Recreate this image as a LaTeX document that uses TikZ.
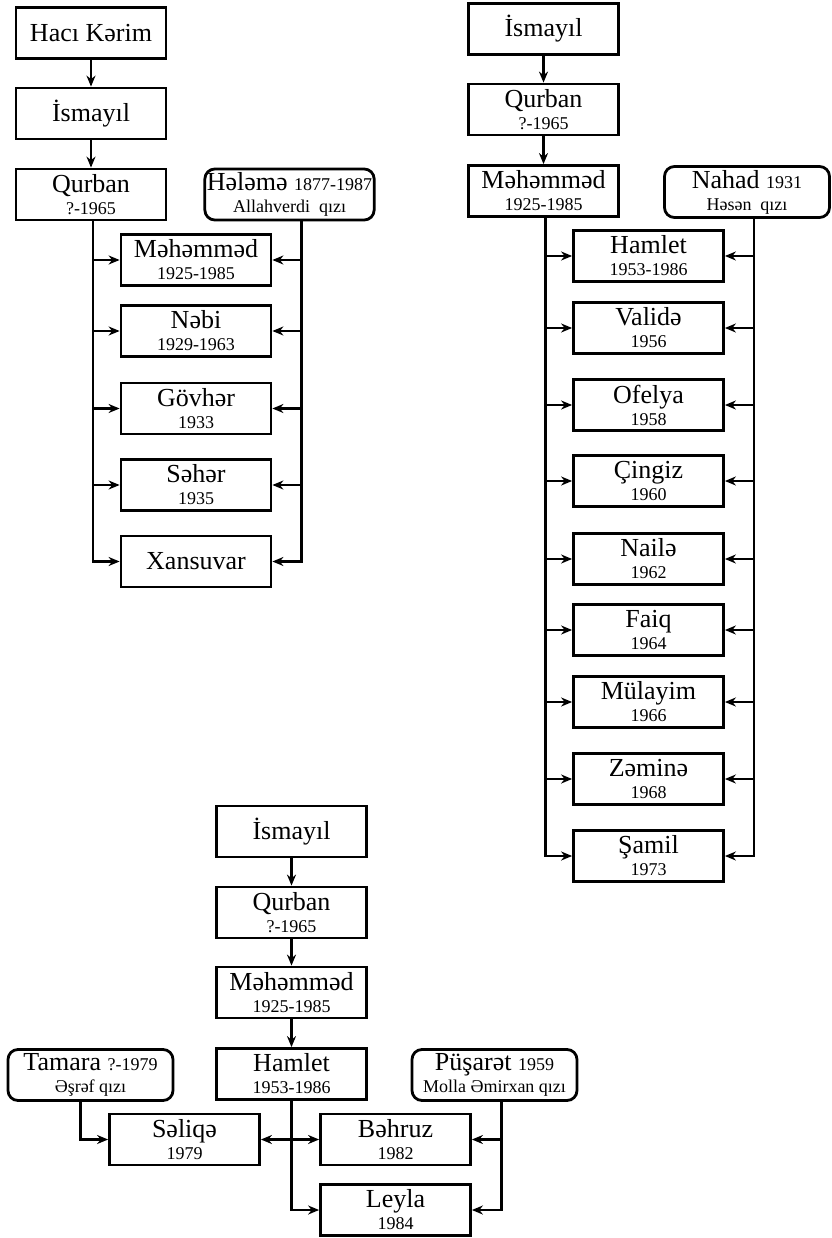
\documentclass[tikz,border=0pt]{standalone}
\usepackage{fontspec}
\setmainfont{Liberation Serif}
\usetikzlibrary{arrows.meta}

\newcommand{\yr}[1]{{\fontsize{18}{22}\selectfont #1}}

\begin{document}
\begin{tikzpicture}[
  x=1pt, y=-1pt,
  font=\fontsize{26}{22}\selectfont,
  person/.style={draw, line width=2.8pt, align=center, inner sep=2pt,
                 minimum width=150pt, minimum height=51pt},
  spouse/.style={person, rounded corners=10pt, minimum width=165pt},
  ln/.style={line width=2.8pt},
  arr/.style={-{Stealth[length=11pt,width=9pt]}, line width=2.8pt},
]
\useasboundingbox (0,0) rectangle (831,1238);

% first tree
\node[person] (hk) at (91,33) {Hacı Kərim};
\node[person] (ism1) at (91,113.5) {İsmayıl};
\node[person] (qur1) at (91,194.5) {Qurban\\\yr{?-1965}};
\node[spouse] (hal) at (289.5,194.5) {Hələmə \yr{1877-1987}\\\yr{Allahverdi\ \ qızı}};
\node[person] (meh1) at (196,260) {Məhəmməd\\\yr{1925-1985}};
\node[person] (nebi) at (196,331) {Nəbi\\\yr{1929-1963}};
\node[person] (gov) at (196,408.5) {Gövhər\\\yr{1933}};
\node[person] (seh) at (196,485) {Səhər\\\yr{1935}};
\node[person] (xans) at (196,561.5) {Xansuvar};
\draw[arr] (hk) -- (ism1);
\draw[arr] (ism1) -- (qur1);
\draw[arr, line join=miter] ([xshift=2pt]qur1.south) |- (xans.west);
\draw[arr] ([xshift=2pt]qur1.south |- meh1.west) -- (meh1.west);
\draw[arr] ([xshift=2pt]qur1.south |- nebi.west) -- (nebi.west);
\draw[arr] ([xshift=2pt]qur1.south |- gov.west) -- (gov.west);
\draw[arr] ([xshift=2pt]qur1.south |- seh.west) -- (seh.west);
\draw[arr, line join=miter] ([xshift=12pt]hal.south) |- (xans.east);
\draw[arr] ([xshift=12pt]hal.south |- meh1.east) -- (meh1.east);
\draw[arr] ([xshift=12pt]hal.south |- nebi.east) -- (nebi.east);
\draw[arr] ([xshift=12pt]hal.south |- gov.east) -- (gov.east);
\draw[arr] ([xshift=12pt]hal.south |- seh.east) -- (seh.east);

% second tree
\node[person] (ism2) at (543.5,29) {İsmayıl};
\node[person] (qur2) at (543.5,109.5) {Qurban\\\yr{?-1965}};
\node[person] (meh2) at (543.5,191) {Məhəmməd\\\yr{1925-1985}};
\node[spouse] (nahad) at (747,192) {Nahad \yr{1931}\\\yr{Həsən\ \ qızı}};
\node[person] (ham2) at (648.5,256) {Hamlet\\\yr{1953-1986}};
\node[person] (val) at (648.5,328) {Validə\\\yr{1956}};
\node[person] (ofe) at (648.5,405) {Ofelya\\\yr{1958}};
\node[person] (cin) at (648.5,481) {Çingiz\\\yr{1960}};
\node[person] (nai) at (648.5,559) {Nailə\\\yr{1962}};
\node[person] (fai) at (648.5,630) {Faiq\\\yr{1964}};
\node[person] (mul) at (648.5,702) {Mülayim\\\yr{1966}};
\node[person] (zem) at (648.5,779) {Zəminə\\\yr{1968}};
\node[person] (sam) at (648.5,856) {Şamil\\\yr{1973}};
\draw[arr] (ism2) -- (qur2);
\draw[arr] (qur2) -- (meh2);
\draw[arr, line join=miter] ([xshift=2pt]meh2.south) |- (sam.west);
\draw[arr] ([xshift=2pt]meh2.south |- ham2.west) -- (ham2.west);
\draw[arr] ([xshift=2pt]meh2.south |- val.west) -- (val.west);
\draw[arr] ([xshift=2pt]meh2.south |- ofe.west) -- (ofe.west);
\draw[arr] ([xshift=2pt]meh2.south |- cin.west) -- (cin.west);
\draw[arr] ([xshift=2pt]meh2.south |- nai.west) -- (nai.west);
\draw[arr] ([xshift=2pt]meh2.south |- fai.west) -- (fai.west);
\draw[arr] ([xshift=2pt]meh2.south |- mul.west) -- (mul.west);
\draw[arr] ([xshift=2pt]meh2.south |- zem.west) -- (zem.west);
\draw[arr, line join=miter] ([xshift=7pt]nahad.south) |- (sam.east);
\draw[arr] ([xshift=7pt]nahad.south |- ham2.east) -- (ham2.east);
\draw[arr] ([xshift=7pt]nahad.south |- val.east) -- (val.east);
\draw[arr] ([xshift=7pt]nahad.south |- ofe.east) -- (ofe.east);
\draw[arr] ([xshift=7pt]nahad.south |- cin.east) -- (cin.east);
\draw[arr] ([xshift=7pt]nahad.south |- nai.east) -- (nai.east);
\draw[arr] ([xshift=7pt]nahad.south |- fai.east) -- (fai.east);
\draw[arr] ([xshift=7pt]nahad.south |- mul.east) -- (mul.east);
\draw[arr] ([xshift=7pt]nahad.south |- zem.east) -- (zem.east);

% third tree
\node[person] (ism3) at (291.5,831.5) {İsmayıl};
\node[person] (qur3) at (291.5,912.5) {Qurban\\\yr{?-1965}};
\node[person] (meh3) at (291.5,992.5) {Məhəmməd\\\yr{1925-1985}};
\node[person] (ham3) at (291.5,1074) {Hamlet\\\yr{1953-1986}};
\node[spouse] (tam) at (90.5,1075) {Tamara \yr{?-1979}\\\yr{Əşrəf qızı}};
\node[spouse] (pus) at (494.5,1075) {Püşarət \yr{1959}\\\yr{Molla Əmirxan qızı}};
\node[person] (sel) at (184.5,1139.5) {Səliqə\\\yr{1979}};
\node[person] (beh) at (395.5,1139.5) {Bəhruz\\\yr{1982}};
\node[person] (ley) at (395.5,1210) {Leyla\\\yr{1984}};
\draw[arr] (ism3) -- (qur3);
\draw[arr] (qur3) -- (meh3);
\draw[arr] (meh3) -- (ham3);
\draw[arr, line join=miter] (ham3.south) |- (ley.west);
\draw[arr] (ham3.south |- sel.east) -- (sel.east);
\draw[arr] (ham3.south |- beh.west) -- (beh.west);
\draw[arr, line join=miter] ([xshift=-10pt]tam.south) |- (sel.west);
\draw[arr, line join=miter] ([xshift=7pt]pus.south) |- (ley.east);
\draw[arr] ([xshift=7pt]pus.south |- beh.east) -- (beh.east);
\end{tikzpicture}
\end{document}
